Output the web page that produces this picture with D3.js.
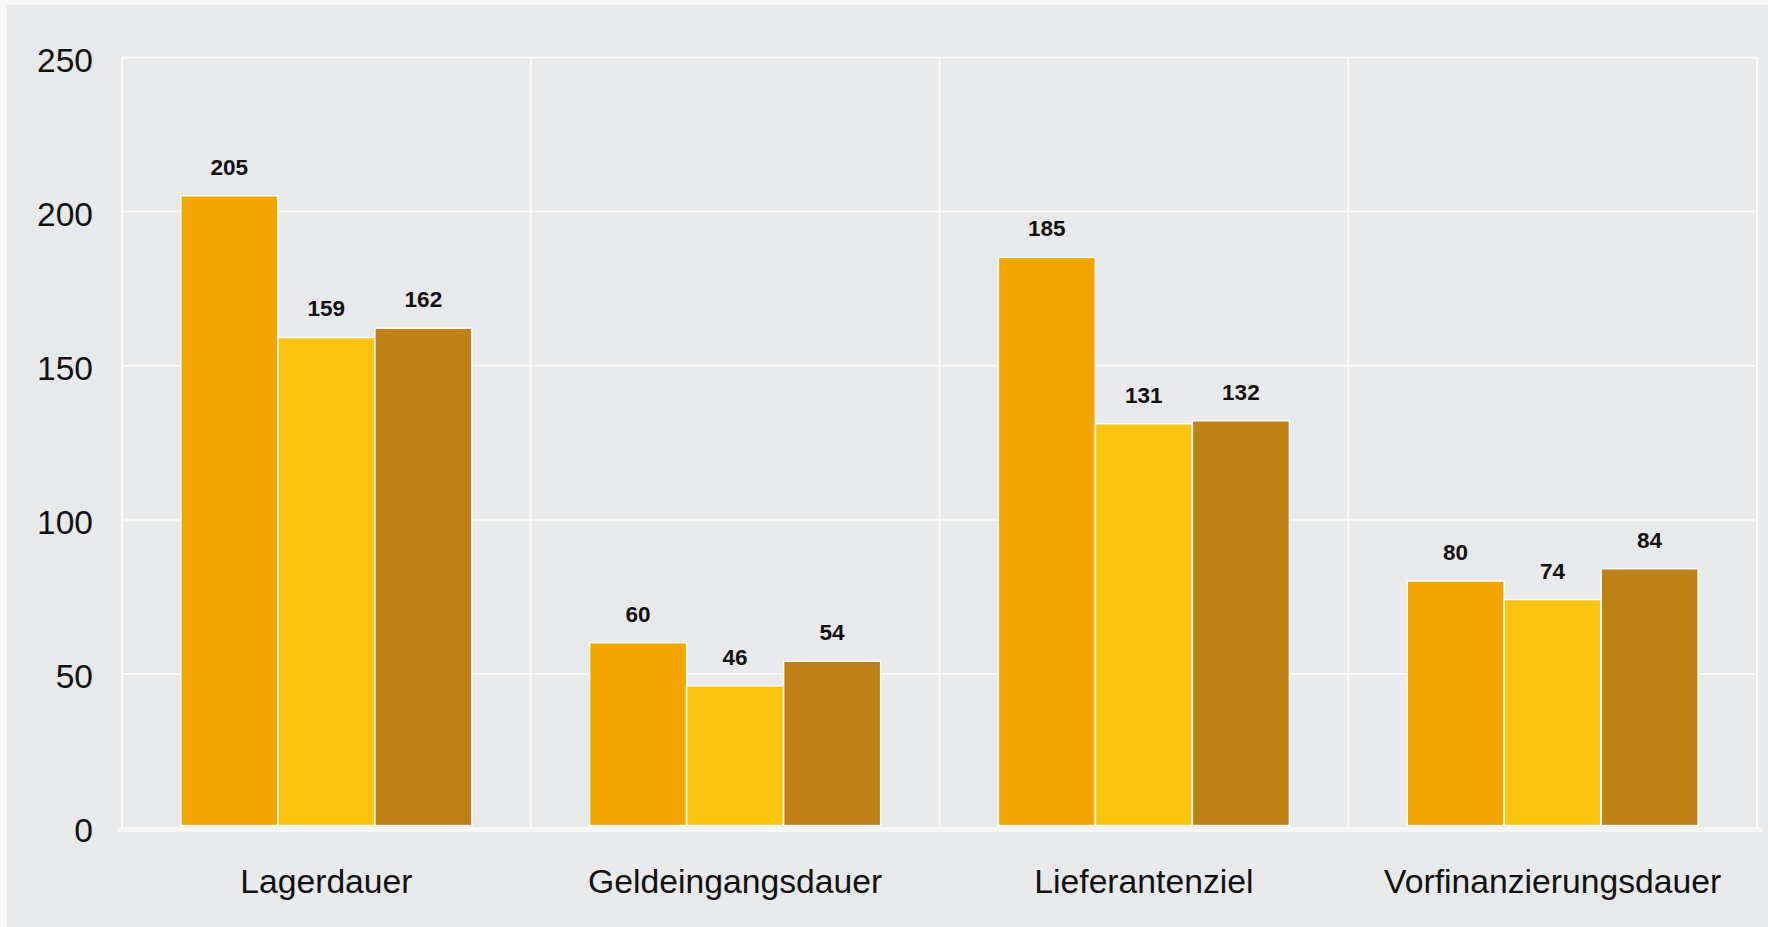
<!DOCTYPE html>
<html>
<head>
<meta charset="utf-8">
<script src="https://cdn.jsdelivr.net/npm/d3@7"></script>
<style>
  body { margin: 0; background: #f7f7f7; }
  svg { display: block; font-family: "Liberation Sans", Arial, sans-serif; }
</style>
</head>
<body>
<svg class="chart"></svg>
<script>
// values
var categories = ["Lagerdauer", "Geldeingangsdauer", "Lieferantenziel", "Vorfinanzierungsdauer"];
var seriesNames = ["Reihe 1", "Reihe 2", "Reihe 3"];
var series1 = [205, 60, 185, 80];
var series2 = [159, 46, 131, 74];
var series3 = [162, 54, 132, 84];
var yTicks = [0, 50, 100, 150, 200, 250];
var colors = ["#f3a600", "#fac30d", "#bf8115"];

var W = 1768, H = 927;
var margin = {top: 57, right: 11, bottom: 99.4, left: 122},
  width = W - margin.left - margin.right,
  height = H - margin.top - margin.bottom;

var chart = d3.select('.chart')
  .attr('width', W)
  .attr('height', H);

// grey panel
chart.append('rect')
  .attr('x', 7).attr('y', 5)
  .attr('width', W - 7).attr('height', H - 5)
  .attr('fill', '#e8e9eb');

var g = chart.append('g')
  .attr('transform', 'translate(' + margin.left + ',' + margin.top + ')');

var x0 = d3.scaleBand().domain(categories).range([0, width]).padding(0),
  x1 = d3.scaleBand().domain(seriesNames)
    .range([x0.bandwidth() * 0.144, x0.bandwidth() * 0.856]),
  y = d3.scaleLinear().domain([0, 250]).range([height, 0]);

var rows = categories.map(function(c, i) {
  return {cat: c, vals: [series1[i], series2[i], series3[i]]};
});

// horizontal gridlines
g.append('g')
  .attr('class', 'grid')
  .call(d3.axisLeft(y).tickValues(yTicks).tickSize(-width).tickFormat(''))
  .call(function(s) {
    s.select('.domain').remove();
    s.selectAll('.tick line').attr('stroke', '#f9f9f9').attr('stroke-width', 2);
  });

// vertical separators at band edges
var edges = categories.map(function(c) { return x0(c); }).concat([width]);
g.selectAll('.vline')
  .data(edges)
  .enter().append('line')
  .attr('class', 'vline')
  .attr('x1', function(d) { return d; })
  .attr('x2', function(d) { return d; })
  .attr('y1', y(250))
  .attr('y2', y(0))
  .attr('stroke', '#f9f9f9')
  .attr('stroke-width', 2);

// bars
var group = g.selectAll('.cat')
  .data(rows)
  .enter().append('g')
  .attr('class', 'cat')
  .attr('transform', function(d) { return 'translate(' + x0(d.cat) + ',0)'; });

group.selectAll('rect')
  .data(function(d) { return d.vals.map(function(v, i) { return {s: seriesNames[i], v: v, i: i}; }); })
  .enter().append('rect')
  .attr('x', function(d) { return x1(d.s); })
  .attr('y', function(d) { return y(d.v); })
  .attr('width', x1.bandwidth())
  .attr('height', function(d) { return y(0) - y(d.v) - 2; })
  .attr('fill', function(d) { return colors[d.i]; })
  .attr('stroke', '#ffffff')
  .attr('stroke-width', 1.5);

group.selectAll('.val')
  .data(function(d) { return d.vals.map(function(v, i) { return {s: seriesNames[i], v: v}; }); })
  .enter().append('text')
  .attr('class', 'val')
  .attr('x', function(d) { return x1(d.s) + x1.bandwidth() / 2; })
  .attr('y', function(d) { return y(d.v) - 21; })
  .attr('text-anchor', 'middle')
  .style('font-size', '22.5px')
  .style('font-weight', 'bold')
  .attr('fill', '#111')
  .text(function(d) { return d.v; });

// zero baseline
g.append('line')
  .attr('x1', -2).attr('x2', width + 3)
  .attr('y1', y(0) + 2).attr('y2', y(0) + 2)
  .attr('stroke', '#f6f6f6')
  .attr('stroke-width', 5)
  .attr('stroke-linecap', 'round');

// y axis labels
g.append('g')
  .attr('class', 'axis')
  .attr('transform', 'translate(-29,0)')
  .call(d3.axisLeft(y).tickValues(yTicks).tickSize(0).tickPadding(0))
  .call(function(s) {
    s.select('.domain').remove();
    s.selectAll('.tick text')
      .attr('dy', '14')
      .attr('fill', '#111')
      .style('font-size', '33.5px')
      .style('font-family', '"Liberation Sans", Arial, sans-serif');
  });

// x axis labels
g.append('g')
  .attr('class', 'axis')
  .attr('transform', 'translate(0,' + height + ')')
  .call(d3.axisBottom(x0).tickSize(0).tickPadding(0))
  .call(function(s) {
    s.select('.domain').remove();
    s.selectAll('.tick text')
      .attr('y', 65)
      .attr('dy', 0)
      .attr('fill', '#111')
      .style('font-size', '33.7px')
      .style('font-family', '"Liberation Sans", Arial, sans-serif');
  });
</script>
</body>
</html>
